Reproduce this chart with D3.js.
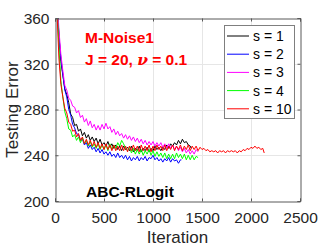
<!DOCTYPE html>
<html><head><meta charset="utf-8">
<script src="https://cdn.jsdelivr.net/npm/d3@7"></script>
<style>body{margin:0;background:#fff}svg{display:block}text{font-family:"Liberation Sans",Arial,sans-serif}</style>
</head><body><svg id="c" width="332" height="249"></svg>
<script>
const step = 20;
const iterStart = [10];
const labels = ["s = 1","s = 2","s = 3","s = 4","s = 10"];
const colors = ["#000000","#0000ff","#ff00ff","#00ff00","#ff0000"];
const xTicks = [0,500,1000,1500,2000,2500];
const yTicks = [200,240,280,320,360];
// values at iterations 10, 20, 40, 60, ... (step 20); the last value is at the series' end iteration
const black = [420,378,345,322,310,298,293,286,276,273,266,267,261,263,257,260,255,258,253,256,252,255,250,254,249,251,248,252,247,250,246,249,245,248,244,248,245,247,244,248,243,246,244,248,243,246,244,247,243,246,244,248,245,247,244,247,245,249,246,250,248,251,249,253,250,254,251,252,249,248,246];
const blackEnd = 1390;
const blue = [420,375,345,325,311,297,291,280,275,267,264,259,258,253,254,249,251,246,249,245,247,243,246,242,245,241,243,240,243,239,241,238,242,238,240,237,240,236,239,235,238,236,239,235,238,236,239,235,238,237,240,236,238,235,237,234,237,235,238,234,237,235,236,233,236,236];
const blueEnd = 1290;
const magenta = [420,380,350,328,314,301,297,290,288,283,282,277,279,273,275,269,272,266,270,264,267,262,266,262,267,263,268,263,265,260,263,258,261,257,259,255,258,254,257,253,256,252,255,251,254,250,253,249,252,249,252,248,251,248,251,247,250,246,250,246,249,245,248,244,247,243,246,242,245,241,244,241,245,243];
const magentaEnd = 1460;
const green = [420,372,335,305,291,278,272,263,262,256,258,253,256,251,255,250,253,248,252,247,250,246,250,245,249,245,249,244,250,245,249,246,251,248,253,250,246,244,247,242,246,241,245,241,245,240,244,241,245,240,244,239,243,239,242,238,242,237,241,237,241,237,242,238,241,237,241,236,240,236,240,236,239,238];
const greenEnd = 1460;
const red = [420,365,325,302,291,281,277,269,267,261,262,256,259,253,256,250,254,249,253,248,252,247,251,246,250,245,250,245,249,244,249,244,248,244,249,244,248,243,248,244,249,244,248,243,249,244,248,244,249,243,248,244,249,245,248,244,249,244,248,245,249,244,248,245,249,244,248,245,249,244,248,245,248,244,247,245,246,244,245,243,244,243,244,242,244,243,244,242,244,243,244,243,244,242,244,243,245,244,246,245,247,246,248,246,247,245,246,242];
const redEnd = 2135;

const seriesVals = [black, blue, magenta, green, red];
const seriesEnds = [blackEnd, blueEnd, magentaEnd, greenEnd, redEnd];

function toPoints(vals, end){
  return vals.map((v,i)=>{
    let it = i===0 ? iterStart[0] : i*step;
    if(i===vals.length-1) it = end;
    return [it, v];
  });
}

const svg = d3.select("#c");
const L=55, R=300, T=18, B=201;
const x = d3.scaleLinear().domain([0,2500]).range([L,R]);
const y = d3.scaleLinear().domain([200,360]).range([B,T]);
const axisCol = "#262626";

svg.append("rect").attr("x",L).attr("y",T).attr("width",R-L).attr("height",B-T).attr("fill","#fff");

// grid
const grid = svg.append("g").attr("stroke","#e6e6e6").attr("stroke-width",1);
xTicks.slice(1,-1).forEach(t=>grid.append("line").attr("x1",Math.round(x(t))+0.5).attr("x2",Math.round(x(t))+0.5).attr("y1",T).attr("y2",B));
yTicks.slice(1,-1).forEach(t=>grid.append("line").attr("y1",Math.round(y(t))+0.5).attr("y2",Math.round(y(t))+0.5).attr("x1",L).attr("x2",R));

svg.append("clipPath").attr("id","clip").append("rect").attr("x",L).attr("y",T).attr("width",R-L).attr("height",B-T);

const line = d3.line().x(d=>x(d[0])).y(d=>y(d[1]));
const lg = svg.append("g").attr("clip-path","url(#clip)");
seriesVals.forEach((vals,i)=>{
  lg.append("path").attr("d", line(toPoints(vals, seriesEnds[i])))
    .attr("fill","none").attr("stroke",colors[i]).attr("stroke-width",1).attr("stroke-linejoin","round");
});

// axes
const xa = svg.append("g").attr("transform",`translate(0,${B+0.5})`)
  .call(d3.axisBottom(x).tickValues(xTicks).tickSize(-3).tickPadding(8).tickFormat(d3.format("d")));
const xa2 = svg.append("g").attr("transform",`translate(0,${T+0.5})`)
  .call(d3.axisTop(x).tickValues(xTicks).tickSize(-3).tickFormat(""));
const ya = svg.append("g").attr("transform",`translate(${L+0.5},0)`)
  .call(d3.axisLeft(y).tickValues(yTicks).tickSize(-3).tickPadding(6).tickFormat(d3.format("d")));
const ya2 = svg.append("g").attr("transform",`translate(${R+0.5},0)`)
  .call(d3.axisRight(y).tickValues(yTicks).tickSize(-3).tickFormat(""));
[xa,xa2,ya,ya2].forEach(g=>{
  g.selectAll("path.domain").attr("stroke","#595959");
  g.selectAll("line").attr("stroke","#595959");
  g.selectAll("text").attr("fill",axisCol).style("font-size","15.5px");
});
xa.selectAll("text").attr("dy","0.9em");
ya.selectAll("text").attr("dy","0.35em");

svg.append("text").attr("x",(L+R)/2).attr("y",243).attr("text-anchor","middle")
  .attr("fill",axisCol).style("font-size","17px").text("Iteration");
svg.append("text").attr("transform",`translate(18,${(T+B)/2}) rotate(-90)`).attr("text-anchor","middle")
  .attr("fill",axisCol).style("font-size","17px").text("Testing Error");

// annotations
svg.append("text").attr("x",85).attr("y",43).attr("fill","#ff0000").style("font-size","15.5px").style("font-weight","bold").text("M-Noise1");
const t2 = svg.append("text").attr("x",85).attr("y",65).attr("fill","#ff0000").style("font-size","15.5px").style("font-weight","bold");
t2.append("tspan").text("J = 20, ");
t2.append("tspan").style("font-style","italic").attr("font-family","'DejaVu Serif',serif").text("ν");
t2.append("tspan").text(" = 0.1");
svg.append("text").attr("x",86).attr("y",197).attr("fill","#000").style("font-size","15.5px").style("font-weight","bold").text("ABC-RLogit");

// legend
const lgX=224.5, lgY=25.5, lgW=70, lgH=93;
const leg = svg.append("g");
leg.append("rect").attr("x",lgX).attr("y",lgY).attr("width",lgW).attr("height",lgH).attr("fill","#fff").attr("stroke","#7f7f7f").attr("stroke-width",1);
labels.forEach((lab,i)=>{
  const yy = 36 + i*18.2;
  leg.append("line").attr("x1",227).attr("x2",249).attr("y1",yy).attr("y2",yy).attr("stroke",colors[i]).attr("stroke-width",1);
  leg.append("text").attr("x",253).attr("y",yy).attr("dy","0.36em").attr("fill","#000").style("font-size","14px").text(lab);
});
</script></body></html>
